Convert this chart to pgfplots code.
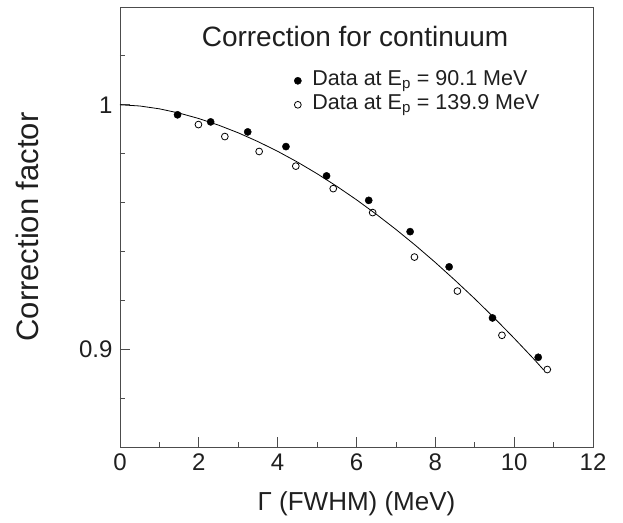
\documentclass[border=0pt]{standalone}
\usepackage{fontspec}
\setmainfont{Liberation Sans}
\usepackage{pgfplots}
\pgfplotsset{compat=1.18}

\definecolor{frame}{gray}{0.3}
\definecolor{ink}{gray}{0.12}

% Correction factor vs. resolution width, two beam energies
\pgfplotstableread{
x      y
1.46   0.9959
2.30   0.9930
3.24   0.9889
4.21   0.9829
5.24   0.9709
6.31   0.9609
7.36   0.9481
8.35   0.9337
9.45   0.9128
10.61  0.8967
}\lowE
\pgfplotstableread{
x      y
1.99   0.9919
2.66   0.9870
3.53   0.9809
4.46   0.9749
5.41   0.9657
6.41   0.9559
7.47   0.9377
8.56   0.9238
9.69   0.9057
10.84  0.8917
}\highE
\pgfplotstableread{
x      y
0.0    1.00000
0.5    0.99951
1.0    0.99834
1.5    0.99661
2.0    0.99437
2.5    0.99167
3.0    0.98853
3.5    0.98494
4.0    0.98096
4.5    0.97658
5.0    0.97180
5.5    0.96665
6.0    0.96114
6.5    0.95524
7.0    0.94901
7.5    0.94243
8.0    0.93549
8.5    0.92820
9.0    0.92065
9.5    0.91273
10.0   0.90448
10.5   0.89597
10.75  0.89149
}\fitcurve

\begin{document}
\begin{tikzpicture}
\begin{axis}[
  scale only axis,
  width=473pt, height=440pt,
  xmin=0, xmax=12, ymin=0.86, ymax=1.04,
  axis line style={frame, line width=0.8pt},
  tick style={frame, line width=0.8pt},
  tick align=inside,
  xtick pos=left, ytick pos=left,
  major tick length=10pt, minor tick length=5pt,
  xtick={0,2,4,6,8,10,12},
  minor xtick={1,3,5,7,9,11},
  ytick={0.9,1.0}, yticklabels={0.9,1},
  minor ytick={0.88,0.92,0.94,0.96,0.98,1.02},
  /pgf/number format/assume math mode=true,
  tick label style={font=\fontsize{24}{27}\selectfont, text=ink},
  xticklabel style={yshift=-3pt},
  yticklabel style={xshift=-4pt},
  xlabel={Γ (FWHM) (MeV)},
  ylabel={Correction factor},
  xlabel style={font=\fontsize{26}{30}\selectfont, text=ink,
    at={(axis description cs:0.5,-0.128)}, anchor=center},
  ylabel style={font=\fontsize{31}{34}\selectfont, text=ink,
    at={(axis description cs:-0.195,0.5)}, anchor=center, rotate=0},
  legend style={at={(axis cs:4.415,1.0049)}, anchor=west, draw=none, fill=none,
    font=\fontsize{21.5}{25}\selectfont, text=ink, inner sep=0pt, row sep=0pt,
    nodes={inner sep=2pt, text height=15pt, text depth=5pt},
    /tikz/every odd column/.append style={column sep=9pt}},
  legend cell align=left,
  legend image code/.code={\draw[#1] plot coordinates {(0.25cm,0cm)};},
]
\addplot[black, line width=0.8pt, no marks, forget plot] table[x=x,y=y] {\fitcurve};
\addplot[only marks, mark=*, mark size=3.6pt, black, fill=black] table[x=x,y=y] {\lowE};
\addlegendentry{Data at E\textsubscript{p} = 90.1 MeV}
\addplot[only marks, mark=o, mark size=3.4pt, black, line width=0.8pt] table[x=x,y=y] {\highE};
\addlegendentry{Data at E\textsubscript{p} = 139.9 MeV}
\node[font=\fontsize{28}{31}\selectfont, text=ink] at (rel axis cs:0.497,0.932) {Correction for continuum};
% page extent around the axis box
\coordinate (pageSW) at (axis description cs:-0.2537,-0.1705);
\coordinate (pageNE) at (axis description cs:1.0634,1.0159);
\end{axis}
\pgfresetboundingbox
\path[use as bounding box] (pageSW) rectangle (pageNE);
\end{tikzpicture}
\end{document}
